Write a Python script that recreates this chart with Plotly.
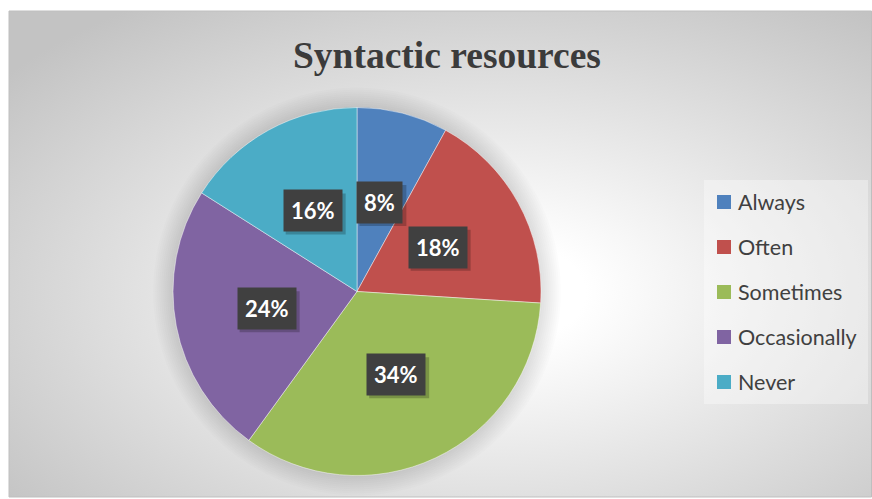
import base64
import math
import plotly.graph_objects as go

# Survey responses on use of syntactic resources
categories = ["Always", "Often", "Sometimes", "Occasionally", "Never"]
percentages = [8, 18, 34, 24, 16]
colors = ["#4f81bd", "#c0504d", "#9bbb59", "#8064a2", "#4bacc6"]
title_text = "Syntactic resources"

W, H = 872, 499


def px(x):
    return x / W


def py(y):
    return 1 - y / H


# Pie geometry (pixels)
CX, CY, R = 357, 291.5, 184

# Chart-area background: soft radial gradient
area = (9, 11, 872, 497)
aw, ah = area[2] - area[0], area[3] - area[1]
svg = (
    f'<svg xmlns="http://www.w3.org/2000/svg" width="{aw}" height="{ah}">'
    '<defs><radialGradient id="g" cx="0.56" cy="0.58" r="0.72">'
    '<stop offset="0" stop-color="#ffffff"/>'
    '<stop offset="0.15" stop-color="#ffffff"/>'
    '<stop offset="1" stop-color="#c3c3c3"/>'
    '</radialGradient></defs>'
    f'<rect width="{aw}" height="{ah}" fill="url(#g)"/></svg>'
)
bg_src = "data:image/svg+xml;base64," + base64.b64encode(svg.encode()).decode()

fig = go.Figure()
fig.add_trace(go.Pie(
    labels=categories,
    values=percentages,
    sort=False,
    direction="clockwise",
    rotation=0,
    marker=dict(colors=colors, line=dict(color="rgba(255,255,255,0.45)", width=1)),
    textinfo="none",
    hoverinfo="label+percent",
    showlegend=False,
    domain=dict(x=[px(CX - R), px(CX + R)], y=[py(CY + R), py(CY - R)]),
))

shapes = []
# soft halo behind the pie
for k in range(1, 11):
    rr = R + 2 * k
    shapes.append(dict(
        type="circle", xref="paper", yref="paper", layer="below",
        x0=px(CX - rr), x1=px(CX + rr), y0=py(CY + rr), y1=py(CY - rr),
        fillcolor="rgba(0,0,0,0.013)", line=dict(width=0),
    ))
# chart-area frame
shapes.append(dict(
    type="rect", xref="paper", yref="paper", layer="above",
    x0=px(area[0]), x1=px(area[2] - 0.5), y0=py(area[3]), y1=py(area[1]),
    line=dict(color="#bfbfbf", width=1), fillcolor="rgba(0,0,0,0)",
))
# legend panel
shapes.append(dict(
    type="rect", xref="paper", yref="paper", layer="below",
    x0=px(704), x1=px(868), y0=py(404), y1=py(180),
    fillcolor="rgba(255,255,255,0.35)", line=dict(width=0),
))

annotations = []
# data labels at half radius along each slice's mid-angle
total = sum(percentages)
cum = 0
label_shapes = []
for v in percentages:
    theta = 2 * math.pi * (cum + v / 2) / total
    cum += v
    lx = CX + 0.5 * R * math.sin(theta)
    ly = CY - 0.5 * R * math.cos(theta)
    text = f"{v}%"
    # drop shadow under the label box
    bw, bh = 13 * len(text) + 21, 41
    label_shapes.append(dict(
        type="rect", xref="paper", yref="paper", layer="above",
        x0=px(lx - bw / 2 + 3), x1=px(lx + bw / 2 + 3),
        y0=py(ly + bh / 2 + 3), y1=py(ly - bh / 2 + 3),
        fillcolor="rgba(0,0,0,0.22)", line=dict(width=0),
    ))
    annotations.append(dict(
        x=px(lx), y=py(ly), xref="paper", yref="paper",
        text=text, showarrow=False, borderpad=7, bgcolor="#404040",
        font=dict(family="Lato", size=22, weight="bold", color="#ffffff"),
        xanchor="center", yanchor="middle",
    ))
shapes.extend(label_shapes)

# legend entries
for i, (name, c) in enumerate(zip(categories, colors)):
    yc = 202 + 45 * i
    shapes.append(dict(
        type="rect", xref="paper", yref="paper", layer="above",
        x0=px(717), x1=px(731), y0=py(yc + 7), y1=py(yc - 7),
        fillcolor=c, line=dict(width=0),
    ))
    annotations.append(dict(
        x=px(736), y=py(yc), xref="paper", yref="paper",
        text=name, showarrow=False, xanchor="left", yanchor="middle",
        font=dict(family="Lato", size=21.5, color="#404040"),
    ))

# title
annotations.append(dict(
    x=px(447), y=py(55), xref="paper", yref="paper",
    text=f"<b>{title_text}</b>", showarrow=False,
    xanchor="center", yanchor="middle",
    font=dict(family="Liberation Serif", size=37.5, color="#3b3b3b"),
))

fig.update_layout(
    width=W, height=H,
    margin=dict(l=0, r=0, t=0, b=0),
    paper_bgcolor="#ffffff",
    plot_bgcolor="#ffffff",
    images=[dict(
        source=bg_src, xref="paper", yref="paper",
        x=px(area[0]), y=py(area[1]), sizex=aw / W, sizey=ah / H,
        xanchor="left", yanchor="top", sizing="stretch", layer="below",
    )],
    shapes=shapes,
    annotations=annotations,
)

fig.write_html("out.html")
